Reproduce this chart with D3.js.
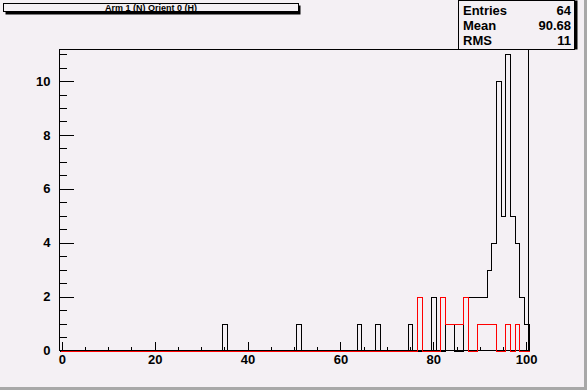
<!DOCTYPE html>
<html>
<head>
<meta charset="utf-8">
<script src="https://cdn.jsdelivr.net/npm/d3@7"></script>
<style>
  body { margin: 0; background: #f4f0f4; }
  svg { display: block; font-family: "Liberation Sans", Arial, sans-serif; font-weight: bold; }
</style>
</head>
<body>
<script>
// histogram contents, one unit bins centred on integers 0..100
const blackBins = [35, 51, 64, 68, 75, 80, 83, 84, 87, 88, 89, 90, 91, 92, 93, 94, 95, 96, 97, 98, 99, 100]
const blackCounts = [1, 1, 1, 1, 1, 2, 1, 1, 2, 2, 2, 2, 2, 3, 4, 10, 5, 11, 5, 4, 2, 1]
const redBins = [77, 82, 83, 84, 85, 86, 87, 90, 91, 92, 93, 96, 98]
const redCounts = [2, 2, 1, 1, 1, 1, 2, 1, 1, 1, 1, 1, 1]
const xTicks = [0, 20, 40, 60, 80, 100]
const yTicks = [0, 2, 4, 6, 8, 10]
const title = "Arm 1 (N) Orient 0 (H)"
const statLabels = ["Entries", "Mean", "RMS"]
const statValues = ["64", "90.68", "11"]

const width = 587, height = 390
const frame = { left: 59.5, right: 528.5, top: 49.5, bottom: 350.5 }
const font = '"Liberation Sans", Arial, sans-serif'

const svg = d3.select("body").append("svg")
    .attr("width", width)
    .attr("height", height)

svg.append("rect").attr("width", width).attr("height", height).attr("fill", "#f4f0f4")
// canvas bevel
svg.append("rect").attr("x", width - 3).attr("y", 0).attr("width", 3).attr("height", height).attr("fill", "#a8a8a8")
svg.append("rect").attr("x", 0).attr("y", height - 3).attr("width", width).attr("height", 3).attr("fill", "#a8a8a8")

const x = d3.scaleLinear().domain([-0.5, 100.5]).range([frame.left, frame.right])
const y = d3.scaleLinear().domain([0, 11.17]).range([frame.bottom, frame.top])

function styleLabels(g) {
    g.attr("font-family", font).attr("font-size", 13).attr("font-weight", "bold")
    g.selectAll("text").attr("fill", "#000")
}

// x axis, ticks pointing into the frame
const xMinor = d3.range(0, 101, 5).filter(v => v % 20 !== 0)
svg.append("g")
    .attr("transform", `translate(0,${frame.bottom})`)
    .call(d3.axisBottom(x).tickValues(xMinor).tickSize(-4).tickFormat(""))
    .call(g => g.select(".domain").remove())
svg.append("g")
    .attr("transform", `translate(0,${frame.bottom})`)
    .call(d3.axisBottom(x).tickValues(xTicks).tickSize(-9).tickPadding(4))
    .call(g => g.select(".domain").remove())
    .call(styleLabels)

const yMinor = d3.range(0, 11.1, 0.5).filter(v => v % 2 !== 0)
svg.append("g")
    .attr("transform", `translate(${frame.left},0)`)
    .call(d3.axisLeft(y).tickValues(yMinor).tickSize(-7).tickFormat(""))
    .call(g => g.select(".domain").remove())
svg.append("g")
    .attr("transform", `translate(${frame.left},0)`)
    .call(d3.axisLeft(y).tickValues(yTicks).tickSize(-14).tickPadding(9))
    .call(g => g.select(".domain").remove())
    .call(styleLabels)

svg.selectAll(".tick line").attr("stroke", "#000").attr("shape-rendering", "crispEdges")

// frame
svg.append("rect")
    .attr("x", frame.left).attr("y", frame.top)
    .attr("width", frame.right - frame.left).attr("height", frame.bottom - frame.top)
    .attr("fill", "none").attr("stroke", "#000").attr("shape-rendering", "crispEdges")

function outline(bins, counts) {
    const full = d3.range(0, 101).map(b => {
        const i = bins.indexOf(b)
        return i < 0 ? 0 : counts[i]
    })
    const pts = [[-0.5, 0]]
    full.forEach((v, b) => { pts.push([b - 0.5, v]); pts.push([b + 0.5, v]) })
    pts.push([100.5, 0])
    return d3.line().x(d => Math.round(x(d[0])) + 0.5).y(d => Math.round(y(d[1])) + 0.5)(pts)
}

svg.append("path").attr("d", outline(blackBins, blackCounts))
    .attr("fill", "none").attr("stroke", "#000").attr("shape-rendering", "crispEdges")
svg.append("path").attr("d", outline(redBins, redCounts))
    .attr("fill", "none").attr("stroke", "#ff0000").attr("shape-rendering", "crispEdges")

// title box
const tb = { x: 3.5, y: 3.5, w: 295, h: 8 }
svg.append("rect").attr("x", tb.x + 2).attr("y", tb.y + 2).attr("width", tb.w).attr("height", tb.h + 1).attr("fill", "#000")
svg.append("rect").attr("x", tb.x).attr("y", tb.y).attr("width", tb.w).attr("height", tb.h)
    .attr("fill", "#f4f0f4").attr("stroke", "#000").attr("shape-rendering", "crispEdges")
svg.append("text").attr("x", tb.x + tb.w / 2).attr("y", 10.5)
    .attr("text-anchor", "middle").attr("font-size", 9).text(title)

// stats box
const sb = { x: 458.5, y: 0.5, w: 116, h: 49 }
svg.append("rect").attr("x", sb.x + 3).attr("y", sb.y).attr("width", sb.w).attr("height", sb.h).attr("fill", "#000")
svg.append("rect").attr("x", sb.x).attr("y", sb.y).attr("width", sb.w).attr("height", sb.h)
    .attr("fill", "#f4f0f4").attr("stroke", "#000").attr("shape-rendering", "crispEdges")
statLabels.forEach((s, i) => {
    svg.append("text").attr("x", 463).attr("y", 15 + i * 15).attr("font-size", 13).text(s)
    svg.append("text").attr("x", 571).attr("y", 15 + i * 15).attr("font-size", 13)
        .attr("text-anchor", "end").text(statValues[i])
})
</script>
</body>
</html>
